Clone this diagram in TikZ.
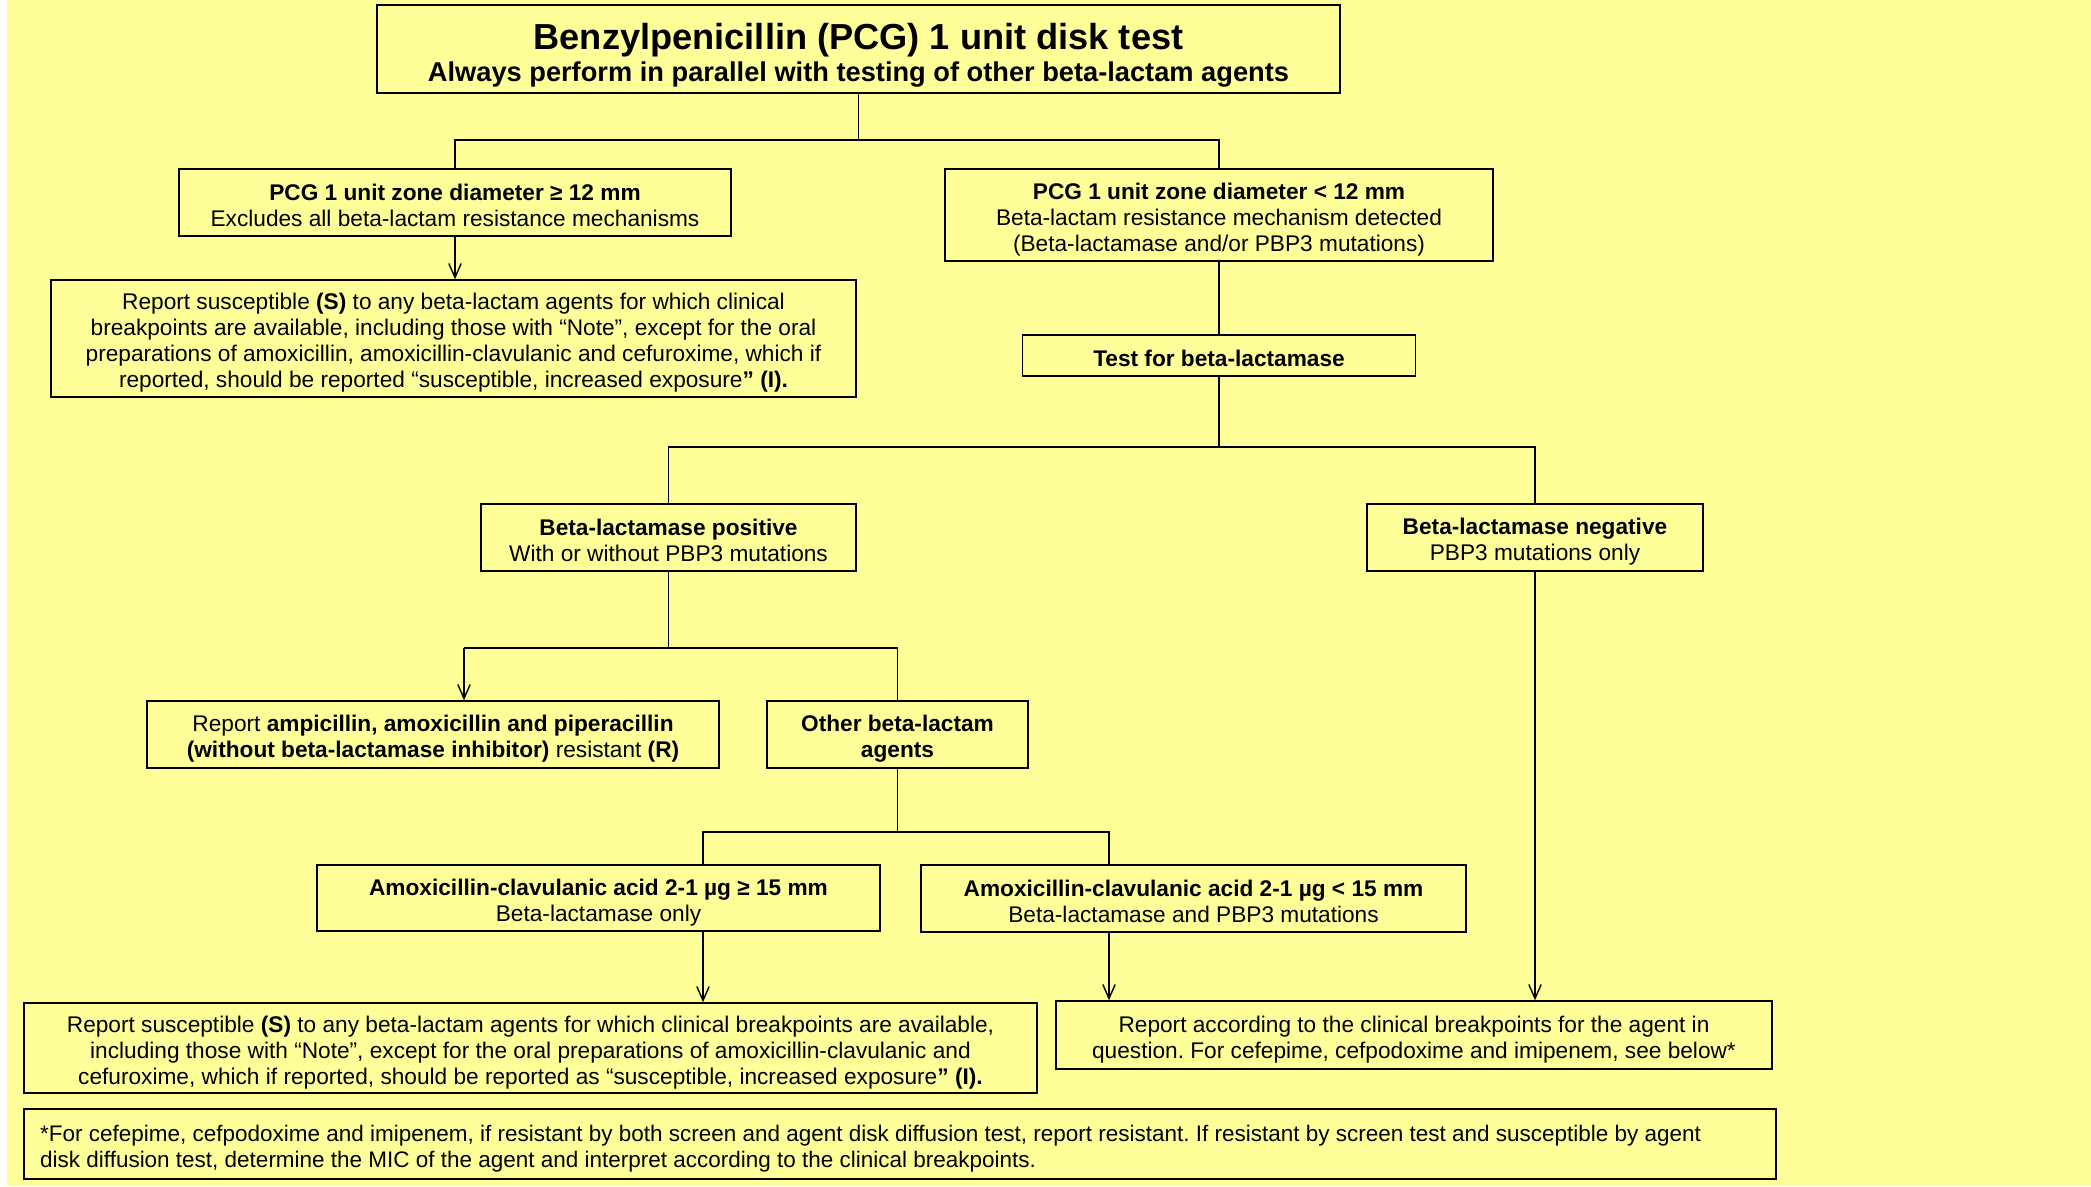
\documentclass[tikz,border=0pt]{standalone}
\usepackage{fontspec}
\setmainfont{Liberation Sans}
\usetikzlibrary{arrows.meta}
\definecolor{notepad}{HTML}{FFFF99}
\tikzset{
  box/.style={draw, line width=0.8pt, align=flush center, inner sep=0pt,
    font=\fontsize{12.9}{14.8}\selectfont\frenchspacing,
    execute at begin node={\rule{0pt}{14.5pt}},
    execute at end node={\rule[-2pt]{0pt}{2pt}}},
  boxw/.style={minimum width=#1, text width=#1-4mm},
  link/.style={line width=0.8pt},
  arrow/.style={link, -{Straight Barb[length=8pt,width=7pt]}}
}
\begin{document}
\begin{tikzpicture}[x=0.02cm,y=-0.02cm]
\useasboundingbox (0,0) rectangle (2091,1186);
\fill[white] (0,0) rectangle (2091,1186);
\fill[notepad] (7,0) rectangle (2091,1186);

\node[box, boxw=19.26cm, minimum height=1.76cm] (title) at (858.5,49)
  {\rule{0pt}{22pt}{\fontsize{20.6}{20}\selectfont\bfseries Benzylpenicillin (PCG) 1 unit disk test}\\[2pt]
   {\fontsize{15.5}{15}\selectfont\bfseries Always perform in parallel with testing of other beta-lactam agents}};
\node[box, boxw=11.04cm, minimum height=1.34cm] (pcgL) at (455,202.5)
  {\textbf{PCG 1 unit zone diameter ≥ 12 mm}\\ Excludes all beta-lactam resistance mechanisms};
\node[box, boxw=10.96cm, minimum height=1.84cm] (pcgR) at (1219,215)
  {\textbf{PCG 1 unit zone diameter < 12 mm}\\ Beta-lactam resistance mechanism detected\\ (Beta-lactamase and/or PBP3 mutations)};
\node[box, boxw=16.1cm, minimum height=2.34cm] (reportS1) at (453.5,338.5)
  {Report susceptible \textbf{(S)} to any beta-lactam agents for which clinical\\
   breakpoints are available, including those with “Note”, except for the oral\\
   preparations of amoxicillin, amoxicillin-clavulanic and cefuroxime, which if\\
   reported, should be reported “susceptible, increased exposure\textbf{” (I).}};
\node[box, boxw=7.86cm, minimum height=0.82cm] (test) at (1219,355.5)
  {\textbf{Test for beta-lactamase}};
\node[box, boxw=7.5cm, minimum height=1.34cm] (blpos) at (668.5,537.5)
  {\textbf{Beta-lactamase positive}\\ With or without PBP3 mutations};
\node[box, boxw=6.72cm, minimum height=1.34cm] (blneg) at (1535,537.5)
  {\textbf{Beta-lactamase negative}\\ PBP3 mutations only};
\node[box, boxw=11.44cm, minimum height=1.34cm] (ampi) at (433,734.5)
  {Report \textbf{ampicillin, amoxicillin and piperacillin}\\
   \textbf{(without beta-lactamase inhibitor)} resistant \textbf{(R)}};
\node[box, boxw=5.22cm, minimum height=1.34cm] (other) at (897.5,734.5)
  {\textbf{Other beta-lactam}\\ \textbf{agents}};
\node[box, boxw=11.26cm, minimum height=1.32cm] (acge) at (598.5,898)
  {\textbf{Amoxicillin-clavulanic acid 2-1 µg ≥ 15 mm}\\ Beta-lactamase only};
\node[box, boxw=10.9cm, minimum height=1.34cm] (aclt) at (1193.5,898.5)
  {\textbf{Amoxicillin-clavulanic acid 2-1 µg < 15 mm}\\ Beta-lactamase and PBP3 mutations};
\node[box, boxw=20.26cm, minimum height=1.8cm] (reportS2) at (530.5,1048)
  {Report susceptible \textbf{(S)} to any beta-lactam agents for which clinical breakpoints are available,\\
   including those with “Note”, except for the oral preparations of amoxicillin-clavulanic and\\
   cefuroxime, which if reported, should be reported as “susceptible, increased exposure\textbf{” (I).}};
\node[box, boxw=14.32cm, minimum height=1.36cm] (reportBP) at (1414,1035)
  {Report according to the clinical breakpoints for the agent in\\
   question. For cefepime, cefpodoxime and imipenem, see below*};
\node[box, align=flush left, text width=34.4cm, inner xsep=0.32cm, minimum height=1.4cm,
  font=\fontsize{12.8}{14.7}\selectfont\frenchspacing] (note) at (900,1144)
  {*For cefepime, cefpodoxime and imipenem, if resistant by both screen and agent disk diffusion test, report resistant. If resistant by screen test and susceptible by agent\\
   disk diffusion test, determine the MIC of the agent and interpret according to the clinical breakpoints.};

\coordinate (j1) at (858.5,140);
\draw[link] (title) -- (j1);
\draw[link] (pcgL.north) |- (j1) -| (pcgR.north);
\draw[arrow] (pcgL) -- (pcgL |- reportS1.north);
\draw[link] (pcgR) -- (pcgR |- test.north);

\coordinate (j2) at (1219,447);
\draw[link] (test) -- (j2);
\draw[link] (blpos.north) |- (j2) -| (blneg.north);

\coordinate (j3) at (668.5,648);
\coordinate (j3a) at (464,648);
\draw[link] (blpos) -- (j3);
\draw[link] (j3a) -| (other.north);
\draw[arrow] (j3a) -- (j3a |- ampi.north);

\coordinate (j4) at (897.5,832);
\coordinate (j4a) at (703,832);
\coordinate (j4b) at (1109,832);
\draw[link] (other) -- (j4);
\draw[link] (j4a |- acge.north) -- (j4a) -- (j4b) -- (j4b |- aclt.north);
\draw[arrow] (acge.south -| j4a) -- (j4a |- reportS2.north);
\draw[arrow] (aclt.south -| j4b) -- (j4b |- reportBP.north);
\draw[arrow] (blneg) -- (blneg |- reportBP.north);
\end{tikzpicture}
\end{document}
